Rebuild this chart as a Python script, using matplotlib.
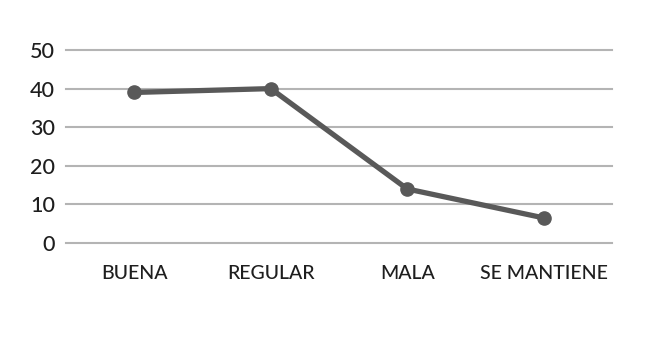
import matplotlib
matplotlib.use("Agg")
import matplotlib.pyplot as plt

categorias = ["BUENA", "REGULAR", "MALA", "SE MANTIENE"]
valores = [39, 40, 14, 6.5]
yticks = [0, 10, 20, 30, 40, 50]

fig = plt.figure(figsize=(6.5, 3.39), dpi=100)
ax = fig.add_axes([66 / 650, 1 - 243 / 339, 546 / 650, 193 / 339])

x = range(len(categorias))
ax.plot(x, valores, color="#595959", linewidth=3.8, marker="o",
        markersize=9.5, solid_joinstyle="round", zorder=3, clip_on=False)

ax.set_xlim(-0.5, len(categorias) - 0.5)
ax.set_ylim(0, 50)
ax.set_yticks(yticks)
ax.set_xticks(list(x))
fuente = ["Lato", "DejaVu Sans"]
ax.set_xticklabels(categorias, fontsize=14, color="#1e1e1e", family=fuente,
                   fontweight="medium")
ax.set_yticklabels([str(v) for v in yticks], fontsize=15.5, color="#1e1e1e",
                   family=fuente, fontweight="medium")
ax.tick_params(axis="y", length=0, pad=8)
ax.tick_params(axis="x", length=0, pad=16)
ax.grid(axis="y", color="#b4b4b4", linewidth=1.5)
for g in ax.get_ygridlines():
    g.set_clip_on(False)
ax.set_axisbelow(True)
for s in ax.spines.values():
    s.set_visible(False)

plt.savefig("out.png", dpi=100)
plt.close()
